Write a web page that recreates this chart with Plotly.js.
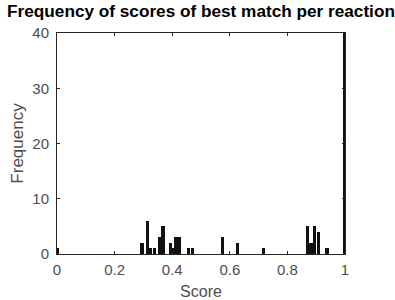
<!DOCTYPE html>
<html>
<head>
<meta charset="utf-8">
<script src="https://cdn.plot.ly/plotly-3.0.1.min.js"></script>
<style>html,body{margin:0;padding:0;background:#fff;}#chart{width:395px;height:300px;}</style>
</head>
<body>
<div id="chart"></div>
<script>
const scores = [0.0, 0.295, 0.314, 0.326, 0.339, 0.356, 0.368, 0.394, 0.405, 0.413, 0.425, 0.457, 0.47, 0.576, 0.628, 0.717, 0.87, 0.882, 0.894, 0.908, 0.9375, 0.997];
const counts = [1, 2, 6, 1, 1, 3, 5, 2, 1, 3, 3, 1, 1, 3, 2, 1, 5, 2, 5, 4, 1, 40];
const xTicks = [0, 0.2, 0.4, 0.6, 0.8, 1];
const xTickLabels = ['0', '0.2', '0.4', '0.6', '0.8', '1'];
const yTicks = [0, 10, 20, 30, 40];

const FONT = 'Liberation Sans, Arial, Helvetica, sans-serif';

const trace = {
  type: 'bar',
  x: scores,
  y: counts,
  width: 0.011,
  marker: {color: '#111111', line: {width: 0}},
  hoverinfo: 'x+y'
};

const axisCommon = {
  showgrid: false,
  zeroline: false,
  showline: true,
  linecolor: '#262626',
  linewidth: 1,
  mirror: 'ticks',
  ticks: 'inside',
  ticklen: 3,
  tickcolor: '#262626',
  tickfont: {family: FONT, size: 15, color: '#4d4d4d'}
};

const layout = {
  width: 395,
  height: 300,
  margin: {l: 57, r: 50, t: 33, b: 46},
  paper_bgcolor: '#ffffff',
  plot_bgcolor: '#ffffff',
  showlegend: false,
  bargap: 0,
  title: {
    text: '<b>Frequency of scores of best match per reaction</b>',
    font: {family: FONT, size: 17.2, color: '#000000'},
    x: 0.5, xanchor: 'center', xref: 'paper',
    y: 1.012, yref: 'paper', yanchor: 'bottom', pad: {b: 9}
  },
  xaxis: Object.assign({}, axisCommon, {
    range: [0, 1],
    tickvals: xTicks,
    ticktext: xTickLabels,
    ticklabelstandoff: 2,
    title: {text: 'Score', font: {family: FONT, size: 16, color: '#4d4d4d'}, standoff: 8}
  }),
  yaxis: Object.assign({}, axisCommon, {
    range: [0, 40],
    tickvals: yTicks,
    ticklabelstandoff: 4,
    title: {text: 'Frequency', font: {family: FONT, size: 17, color: '#4d4d4d'}, standoff: 4}
  })
};

Plotly.newPlot('chart', [trace], layout, {displayModeBar: false, staticPlot: true});
</script>
</body>
</html>
